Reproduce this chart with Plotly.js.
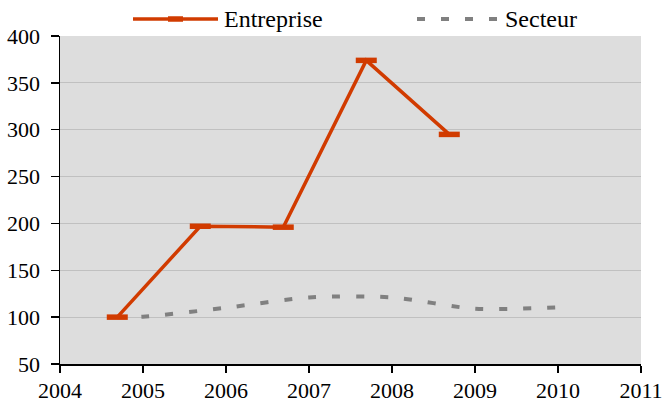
<!DOCTYPE html>
<html>
<head>
<meta charset="utf-8">
<script src="https://cdn.plot.ly/plotly-3.0.1.min.js"></script>
<style>html,body{margin:0;padding:0;background:#fff;}#chart{width:662px;height:403px;}</style>
</head>
<body>
<div id="chart"></div>
<script>
// Data
const entrepriseYears = [2004.69, 2005.69, 2006.69, 2007.69, 2008.69];
const entrepriseValues = [100, 197, 196, 374, 295];
const secteurYears = [2004.69, 2005, 2006, 2007, 2008, 2009, 2010];
const secteurValues = [100, 100.5, 110, 121, 121, 109, 110.5];
const xTicks = [2004, 2005, 2006, 2007, 2008, 2009, 2010, 2011];
const yTicks = [50, 100, 150, 200, 250, 300, 350, 400];
const seriesNames = ['Entreprise', 'Secteur'];

const ORANGE = '#D13B00';
const GREY = '#808080';
const FONT = 'Liberation Serif';

const L = 60, R = 21, T = 36, B = 39, W = 662, H = 403;
const pw = W - L - R, ph = H - T - B;
const px = x => (x - L) / pw;
const py = y => (H - B - y) / ph;

const traces = [
  {
    x: secteurYears, y: secteurValues, name: seriesNames[1], type: 'scatter', mode: 'lines',
    line: {color: GREY, width: 4, dash: '8px,16px', shape: 'spline', smoothing: 0.8},
    showlegend: false, hoverinfo: 'skip'
  },
  {
    x: entrepriseYears, y: entrepriseValues, name: seriesNames[0], type: 'scatter', mode: 'lines+markers',
    line: {color: ORANGE, width: 3.5},
    marker: {symbol: 'line-ew', size: 15, line: {color: ORANGE, width: 5.5}},
    showlegend: false, hoverinfo: 'skip'
  }
];

const legY = py(19);
const layout = {
  width: W, height: H,
  margin: {l: L, r: R, t: T, b: B, pad: 0},
  paper_bgcolor: '#ffffff',
  plot_bgcolor: '#dddddd',
  font: {family: FONT, size: 22, color: '#000'},
  showlegend: false,
  xaxis: {
    range: [2004, 2011], tickvals: xTicks, ticktext: xTicks.map(String),
    showgrid: false, zeroline: false,
    showline: true, linecolor: '#000', linewidth: 1.5,
    ticks: 'outside', ticklen: 7, tickwidth: 1.5, tickcolor: '#000',
    ticklabelstandoff: -1, ticklabeloverflow: 'allow',
    tickfont: {family: FONT, size: 22, color: '#000'}
  },
  yaxis: {
    range: [50, 400], tickvals: yTicks, ticktext: yTicks.map(String),
    showgrid: true, gridcolor: '#c0c0c0', gridwidth: 1,
    zeroline: false,
    showline: true, linecolor: '#000', linewidth: 1.5,
    ticks: 'outside', ticklen: 8, tickwidth: 1.5, tickcolor: '#000',
    ticklabelstandoff: 6,
    tickfont: {family: FONT, size: 22, color: '#000'}
  },
  shapes: [
    {type: 'line', xref: 'paper', yref: 'paper', x0: px(133), x1: px(218), y0: legY, y1: legY,
     line: {color: ORANGE, width: 3.5}},
    {type: 'line', xref: 'paper', yref: 'paper', x0: px(168), x1: px(183), y0: legY, y1: legY,
     line: {color: ORANGE, width: 5.5}},
    {type: 'line', xref: 'paper', yref: 'paper', x0: px(417), x1: px(500), y0: legY, y1: legY,
     line: {color: GREY, width: 4, dash: '8px,16px'}}
  ],
  annotations: [
    {text: seriesNames[0], xref: 'paper', yref: 'paper', x: px(222), y: legY, xanchor: 'left', yanchor: 'middle',
     showarrow: false, font: {family: FONT, size: 24, color: '#000'}},
    {text: seriesNames[1], xref: 'paper', yref: 'paper', x: px(503), y: legY, xanchor: 'left', yanchor: 'middle',
     showarrow: false, font: {family: FONT, size: 24, color: '#000'}}
  ]
};

Plotly.newPlot('chart', traces, layout, {displayModeBar: false, staticPlot: true});
</script>
</body>
</html>
